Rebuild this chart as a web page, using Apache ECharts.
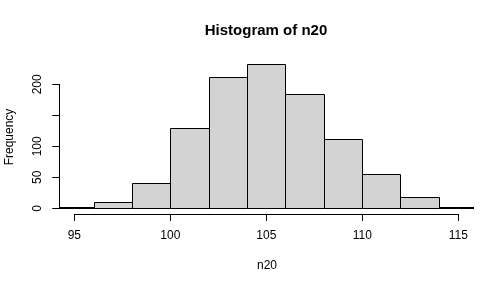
<!DOCTYPE html>
<html><head><meta charset="utf-8">
<script src="https://cdn.jsdelivr.net/npm/echarts@6/dist/echarts.min.js"></script>
<style>html,body{margin:0;padding:0;background:#fff}#c{width:504px;height:288px}</style>
</head><body><div id="c"></div>
<script>
const binStarts = [94, 96, 98, 100, 102, 104, 106, 108, 110, 112, 114];
const binWidth = 2;
const counts = [2, 10, 40, 130, 211, 232, 184, 111, 56, 19, 2];
const xTicks = [95, 100, 105, 110, 115];
const yTicks = [0, 50, 100, 150, 200];
const yHiddenLabels = [150];

const barData = binStarts.map((s, i) => [s, s + binWidth, counts[i]]);
const font = 'Liberation Sans, Arial, sans-serif';

const chart = echarts.init(document.getElementById('c'), null, {renderer: 'canvas'});
chart.setOption({
  animation: false,
  graphic: [
    {type: 'text', x: 266, y: 31, style: {text: 'Histogram of n20', x: 0, y: 0, textAlign: 'center', textVerticalAlign: 'middle', font: 'bold 15px ' + font, fill: '#000'}},
    {type: 'text', x: 267, y: 266, style: {text: 'n20', x: 0, y: 0, textAlign: 'center', textVerticalAlign: 'middle', font: '12px ' + font, fill: '#000'}},
    {type: 'text', rotation: Math.PI / 2, x: 10, y: 137, style: {text: 'Frequency', x: 0, y: 0, textAlign: 'center', textVerticalAlign: 'middle', font: '12px ' + font, fill: '#000'}}
  ],
  grid: [
    {left: 59.3, right: 30.7, top: 60, bottom: 74},
    {left: 74.3, right: 45.7, top: 60, bottom: 74},
    {left: 59.3, right: 30.7, top: 84.3, bottom: 79.7}
  ],
  xAxis: [
    {gridIndex: 0, type: 'value', min: 94.2, max: 115.8, show: false},
    {gridIndex: 1, type: 'value', min: 95, max: 115, interval: 5, position: 'bottom',
     axisLine: {show: true, lineStyle: {color: '#000', width: 1}},
     axisTick: {show: true, length: 7, lineStyle: {color: '#000', width: 1}},
     axisLabel: {show: true, margin: 16, color: '#000', fontFamily: font, fontSize: 12},
     splitLine: {show: false}},
    {gridIndex: 2, type: 'value', show: false}
  ],
  yAxis: [
    {gridIndex: 0, type: 'value', min: -9.2, max: 239.2, show: false},
    {gridIndex: 1, type: 'value', show: false},
    {gridIndex: 2, type: 'value', min: 0, max: 200, interval: 50, position: 'left',
     axisLine: {show: true, lineStyle: {color: '#000', width: 1}},
     axisTick: {show: true, length: 7, lineStyle: {color: '#000', width: 1}},
     axisLabel: {show: true, rotate: 90, margin: 16, color: '#000', fontFamily: font, fontSize: 12,
       formatter: v => yHiddenLabels.includes(v) ? '' : String(v)},
     splitLine: {show: false}}
  ],
  series: [{
    type: 'custom', xAxisIndex: 0, yAxisIndex: 0, clip: true,
    data: barData,
    renderItem: function (params, api) {
      const p0 = api.coord([api.value(0), api.value(2)]);
      const p1 = api.coord([api.value(1), 0]);
      const x0 = Math.round(p0[0]) + 0.5, x1 = Math.round(p1[0]) + 0.5;
      const y0 = Math.round(p0[1]) + 0.5, y1 = Math.round(p1[1]) + 0.5;
      return {
        type: 'rect',
        shape: {x: x0, y: y0, width: x1 - x0, height: y1 - y0},
        style: {fill: '#D3D3D3', stroke: '#000', lineWidth: 1}
      };
    }
  }]
});
</script></body></html>
